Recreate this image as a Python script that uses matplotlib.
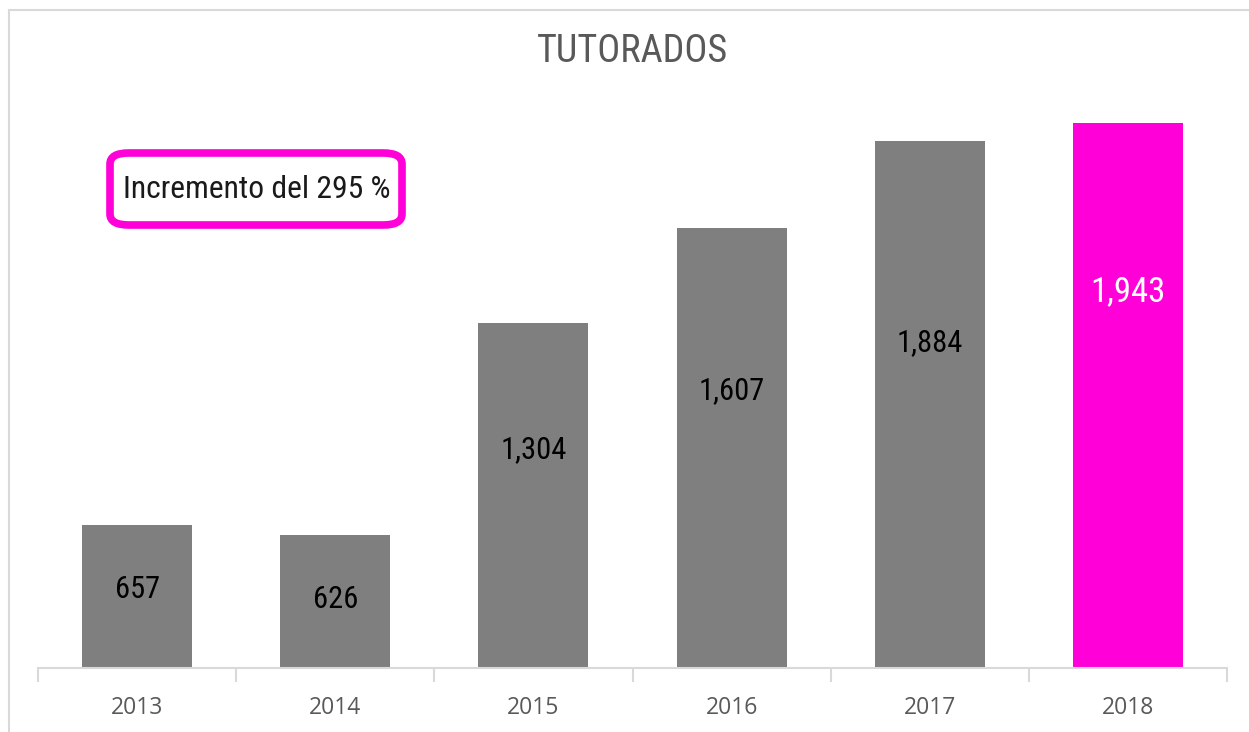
import matplotlib.pyplot as plt
from matplotlib.patches import Rectangle, FancyBboxPatch

# Datos
years = ["2013", "2014", "2015", "2016", "2017", "2018"]
tutorados = [657, 626, 1304, 1607, 1884, 1943]
value_labels = ["657", "626", "1,304", "1,607", "1,884", "1,943"]

narrow = ["Liberation Sans Narrow", "Roboto Condensed", "Liberation Sans", "DejaVu Sans"]
gray = "#7f7f7f"
magenta = "#ff00d8"

fig = plt.figure(figsize=(12.49, 7.32), dpi=100)
W, H = 1249, 732

# marco del gráfico
fig.patches.append(Rectangle((9 / W, -0.5), 1.5, 1.5 - 10 / H, transform=fig.transFigure,
                             fill=False, edgecolor="#d9d9d9", linewidth=1.5))

ax = fig.add_axes([38 / W, 1 - 668 / H, (1227 - 38) / W, (668 - 105) / H])
x = range(len(years))
colors = [gray] * (len(years) - 1) + [magenta]
ax.bar(x, tutorados, width=0.555, color=colors, zorder=2)
ax.set_xlim(-0.5, len(years) - 0.5)
ax.set_ylim(200, 2000)

for s in ["top", "right", "left"]:
    ax.spines[s].set_visible(False)
ax.spines["bottom"].set_color("#d9d9d9")
ax.spines["bottom"].set_linewidth(1.5)
ax.set_yticks([])

# ticks entre categorias
ax.set_xticks([i - 0.5 for i in range(len(years) + 1)], minor=False)
ax.set_xticklabels([])
ax.tick_params(axis="x", length=10, width=1.5, color="#d9d9d9")
ax.set_xticks(list(x), minor=True)
ax.set_xticklabels(years, minor=True, fontsize=16.5, color="#595959",
                   family=["Open Sans", "DejaVu Sans"])
ax.tick_params(axis="x", which="minor", length=0, pad=20)

# etiquetas de valor (posicion leida a ojo)
label_pos = [450, 418, 897, 1086, 1240, 1403]
for i, (lab, yp) in enumerate(zip(value_labels, label_pos)):
    c = "white" if i == len(years) - 1 else "black"
    fs = 25 if i == len(years) - 1 else 22
    ax.text(i, yp, lab, ha="center", va="center", fontsize=fs, color=c, family=narrow)

fig.text(632 / W, 1 - 51 / H, "TUTORADOS", ha="center", va="center",
         fontsize=27.5, color="#595959", family=narrow)

box = FancyBboxPatch((110 / W, 1 - 225 / H), 292 / W, 72 / H,
                     boxstyle="round,pad=0,rounding_size=0.015",
                     transform=fig.transFigure, facecolor="white",
                     edgecolor=magenta, linewidth=5.5)
fig.patches.append(box)
fig.text(257 / W, 1 - 189 / H, "Incremento del 295 %", ha="center", va="center",
         fontsize=22.8, color="#1a1a1a", family=narrow)

fig.savefig("out.png", dpi=100)
